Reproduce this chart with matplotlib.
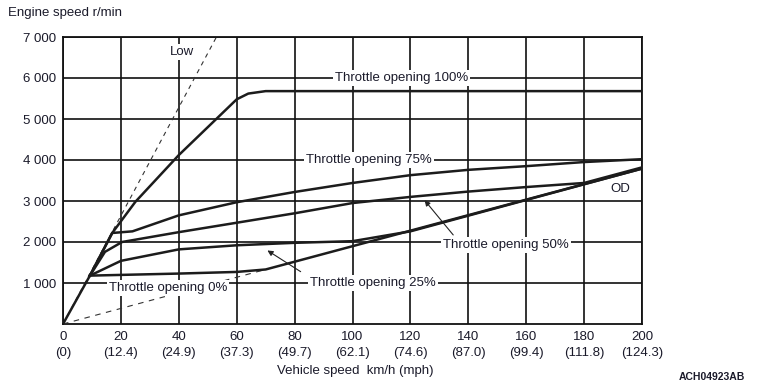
import matplotlib
matplotlib.use("Agg")
import matplotlib.pyplot as plt

plt.rcParams['font.family'] = ['Liberation Sans', 'DejaVu Sans']

# full throttle curve (km/h, r/min)
speed_100 = [0, 9.3, 17, 25, 40, 60, 64, 70, 200]
rpm_100 = [0, 1180, 2220, 2980, 4120, 5480, 5620, 5680, 5680]

speed_75 = [9.3, 17, 24, 40, 60, 80, 100, 120, 140, 160, 180, 200]
rpm_75 = [1180, 2220, 2260, 2650, 2970, 3220, 3440, 3630, 3760, 3850, 3950, 4020]

speed_50 = [9.3, 14.5, 20.4, 40, 60, 80, 100, 120, 140, 160, 180, 200]
rpm_50 = [1180, 1760, 2000, 2240, 2470, 2700, 2950, 3100, 3230, 3340, 3440, 3820]

speed_25 = [9.3, 20, 40, 60, 80, 100, 120, 200]
rpm_25 = [1180, 1540, 1820, 1920, 1980, 2020, 2260, 3790]

speed_0 = [9.3, 40, 60, 70, 200]
rpm_0 = [1180, 1230, 1270, 1330, 3790]

# dashed gear lines
speed_low = [0, 53]
rpm_low = [0, 7000]
speed_od = [0, 70]
rpm_od = [0, 1330]

x_ticks = [0, 20, 40, 60, 80, 100, 120, 140, 160, 180, 200]
mph_labels = ["0", "12.4", "24.9", "37.3", "49.7", "62.1", "74.6", "87.0", "99.4", "111.8", "124.3"]
y_ticks = [1000, 2000, 3000, 4000, 5000, 6000, 7000]

fig = plt.figure(figsize=(7.57, 3.88), dpi=100)
ax = fig.add_axes([63 / 757, 1 - 324 / 388, (642 - 63) / 757, (324 - 37) / 388])

txt = '#1a1a2a'
lc = '#1c1c1c'

ax.set_xlim(0, 200)
ax.set_ylim(0, 7000)
ax.set_xticks(x_ticks)
ax.set_yticks(y_ticks)
ax.grid(True, color='#111111', lw=1.2)
ax.set_axisbelow(True)
for s in ax.spines.values():
    s.set_color('#111111')
    s.set_linewidth(1.3)

ax.set_xticklabels([f"{k}\n({m})" for k, m in zip(x_ticks, mph_labels)])
ax.set_yticklabels([f"{v // 1000} 000" for v in y_ticks])
ax.tick_params(length=0, labelsize=9.5, labelcolor=txt)
ax.tick_params(axis='x', pad=5)
ax.tick_params(axis='y', pad=5)
for lab in ax.get_xticklabels():
    lab.set_linespacing(1.45)

ax.plot(speed_low, rpm_low, color='#333333', lw=0.8, ls=(0, (4, 4)), zorder=3)
ax.plot(speed_od, rpm_od, color='#333333', lw=0.8, ls=(0, (5, 5)), zorder=3)

for sx, sy in [(speed_100, rpm_100), (speed_75, rpm_75), (speed_50, rpm_50),
               (speed_25, rpm_25), (speed_0, rpm_0)]:
    ax.plot(sx, sy, color=lc, lw=1.8, solid_joinstyle='round', zorder=4)

box = dict(facecolor='white', edgecolor='none', pad=1.5)
ax.text(117, 6000, "Throttle opening 100%", ha='center', va='center', fontsize=9.5, color=txt, bbox=box, zorder=5)
ax.text(105.7, 4000, "Throttle opening 75%", ha='center', va='center', fontsize=9.5, color=txt, bbox=box, zorder=5)
ax.text(153, 1920, "Throttle opening 50%", ha='center', va='center', fontsize=9.5, color=txt, bbox=box, zorder=5)
ax.text(107, 1000, "Throttle opening 25%", ha='center', va='center', fontsize=9.5, color=txt, bbox=box, zorder=5)
ax.text(36.3, 880, "Throttle opening 0%", ha='center', va='center', fontsize=9.5, color=txt, bbox=box, zorder=5)
ax.text(41, 6630, "Low", ha='center', va='center', fontsize=9.5, color=txt, bbox=box, zorder=5)
ax.text(192.4, 3290, "OD", ha='center', va='center', fontsize=9.5, color=txt, zorder=5)

arrow = dict(arrowstyle='-|>', color='#222222', lw=0.8, mutation_scale=8)
ax.annotate("", xy=(124.3, 3070), xytext=(135.4, 2120), arrowprops=arrow, zorder=5)
ax.annotate("", xy=(69.8, 1830), xytext=(82.9, 1240), arrowprops=arrow, zorder=5)

fig.text(8 / 757, 1 - 13 / 388, "Engine speed r/min", ha='left', va='center', fontsize=9.5, color=txt)
fig.text(355 / 757, 1 - 371 / 388, "Vehicle speed  km/h (mph)", ha='center', va='center', fontsize=9.5, color=txt)
fig.text(745 / 757, 1 - 377 / 388, "ACH04923AB", ha='right', va='center', fontsize=7.5, fontweight='bold', color=txt)

fig.savefig("out.png", dpi=100)
